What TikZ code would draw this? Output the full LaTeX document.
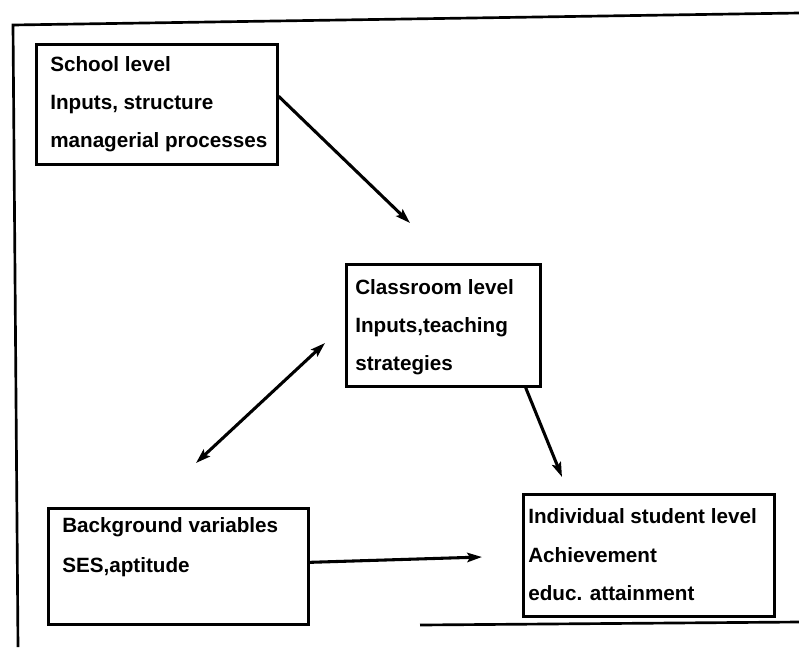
\documentclass[tikz,border=0pt]{standalone}
\usepackage{fontspec}
\setmainfont{Liberation Sans}
\usetikzlibrary{arrows.meta}

\tikzset{
    levelbox/.style={draw, rectangle, line width=2pt, anchor=north west, inner sep=0pt},
    boxtext/.style={anchor=base west, inner sep=0pt, font=\bfseries\fontsize{15.5}{18}\selectfont},
    flow/.style={line width=2.3pt, -{Stealth[length=11pt, width=7pt, inset=2pt]}},
    twoway/.style={line width=2.3pt, {Stealth[length=11pt, width=7pt, inset=2pt]}-{Stealth[length=11pt, width=7pt, inset=2pt]}},
}

\begin{document}
\begin{tikzpicture}[x=0.75pt, y=-0.75pt]

    \useasboundingbox (0,0) rectangle (799,647);

    % =================================================================
    % Frame
    % =================================================================
    \draw[line width=2pt] (18,647) -- (13,25) -- (799,13);
    \draw[line width=2pt] (420,625) -- (799,622);

    % =================================================================
    % Boxes
    % =================================================================
    \node[levelbox, minimum width=180.75pt, minimum height=90pt] (school) at (35,43) {};
    \node[levelbox, minimum width=145.5pt, minimum height=91.5pt] (classroom) at (345,263) {};
    \node[levelbox, minimum width=195pt, minimum height=87pt] (background) at (47,507) {};
    \node[levelbox, minimum width=188.25pt, minimum height=91.5pt] (student) at (522,493) {};

    % Texts in the boxes
    \foreach \y/\txt [count=\n] in {28/School level, 66/{Inputs, structure}, 104/managerial processes}
        \node[boxtext] (school-\n) at ([shift={(15,\y)}]school.north west) {\txt};
    \foreach \y/\txt [count=\n] in {31/Classroom level, 69/{Inputs,teaching}, 107/strategies}
        \node[boxtext] (classroom-\n) at ([shift={(10,\y)}]classroom.north west) {\txt};
    \foreach \y/\txt [count=\n] in {25/Background variables, 65/{SES,aptitude}}
        \node[boxtext] (background-\n) at ([shift={(15,\y)}]background.north west) {\txt};
    \foreach \y/\txt [count=\n] in {30/Individual student level, 69/Achievement, 107/educ. attainment}
        \node[boxtext] (student-\n) at ([shift={(6,\y)}]student.north west) {\txt};

    % =================================================================
    % Arrows
    % =================================================================
    \coordinate (schooltip) at (410,223);
    \coordinate (upend) at (325,343);
    \coordinate (downend) at (196,463);
    \coordinate (studenttop) at (562,477);
    \coordinate (studentleft) at (482,557);

    \draw[flow] ([yshift=6pt]school.east) -- (schooltip);
    \draw[twoway] (upend) -- (downend);
    \draw[flow] ([xshift=-12pt]classroom.south east) -- (studenttop);
    \draw[flow] ([yshift=3pt]background.east) -- (studentleft);

\end{tikzpicture}
\end{document}
